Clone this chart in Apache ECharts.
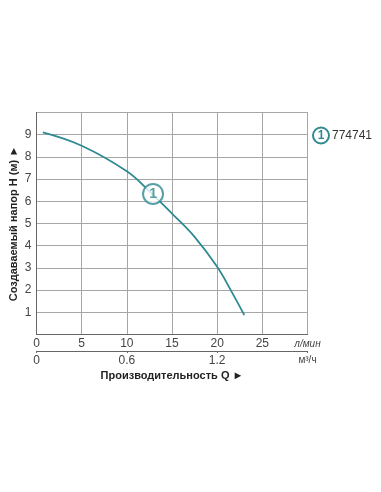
<!DOCTYPE html>
<html><head><meta charset="utf-8">
<script src="https://cdn.jsdelivr.net/npm/echarts@6/dist/echarts.min.js"></script>
<style>html,body{margin:0;padding:0;background:#fff}#c{width:381px;height:492px}</style>
</head><body><div id="c"></div>
<script>
const flowLpm = [0.7, 5, 10, 12.5, 15, 17.5, 20, 21.5, 23];
const headM = [9.1, 8.5, 7.35, 6.45, 5.45, 4.4, 3.05, 2.0, 0.88];
const markerPoint = [12.9, 6.33];
const xTicksLpm = [0, 5, 10, 15, 20, 25];
const xTicksM3h = [0, 0.6, 1.2];
const yTicks = [1, 2, 3, 4, 5, 6, 7, 8, 9];
const seriesName = '774741';
const teal = '#2f8a91';
const font = 'Liberation Sans, Arial, sans-serif';

const chart = echarts.init(document.getElementById('c'));
chart.setOption({
  animation: false,
  textStyle: {fontFamily: font},
  grid: {left: 36.5, right: 73.5, top: 112.5, bottom: 157.5, show: true, borderColor: '#999', borderWidth: 1,
    containLabel: false, outerBoundsMode: 'none'},
  xAxis: [{
    type: 'value', min: 0, max: 30, interval: 5, position: 'bottom',
    axisLine: {show: true, onZero: false, lineStyle: {color: '#666', width: 1}},
    axisTick: {show: false},
    splitLine: {show: true, lineStyle: {color: '#a6a6a6', width: 1}},
    axisLabel: {margin: 3, fontSize: 12, color: '#444', fontFamily: font,
      formatter: v => xTicksLpm.includes(v) ? String(v) : (v === 30 ? '{u|л/мин}' : ''),
      rich: {u: {fontSize: 10, fontStyle: 'italic', color: '#444', padding: [2, 0, 0, 0]}},
      showMaxLabel: true}
  }, {
    type: 'value', min: 0, max: 1.8, interval: 0.6, position: 'bottom', offset: 16.5,
    axisLine: {show: true, onZero: false, lineStyle: {color: '#666', width: 1}},
    axisTick: {show: true, length: 2, lineStyle: {color: '#666'}},
    splitLine: {show: false},
    axisLabel: {margin: 4, fontSize: 12, color: '#444', fontFamily: font,
      formatter: v => {
        const r = Math.round(v * 10) / 10;
        if (r === 1.8) return '{u|м³/ч}';
        return xTicksM3h.includes(r) ? String(r) : '';
      },
      rich: {u: {fontSize: 10, color: '#444'}},
      showMaxLabel: true},
    name: 'Производительность Q ►', nameLocation: 'middle', nameGap: 19,
    nameTextStyle: {fontSize: 11, fontWeight: 'bold', color: '#222', fontFamily: font}
  }],
  yAxis: {
    type: 'value', min: 0, max: 10, interval: 1,
    axisLine: {show: true, lineStyle: {color: '#666', width: 1}},
    axisTick: {show: false},
    splitLine: {show: true, lineStyle: {color: '#a6a6a6', width: 1}},
    axisLabel: {margin: 5, fontSize: 12, color: '#444', fontFamily: font,
      formatter: v => yTicks.includes(v) ? String(v) : ''},
    name: 'Создаваемый напор H (м) ►', nameLocation: 'middle', nameGap: 17, nameRotate: 90,
    nameMoveOverlap: false,
    nameTextStyle: {fontSize: 11, fontWeight: 'bold', color: '#222', fontFamily: font}
  },
  series: [{
    name: seriesName, type: 'line', smooth: 0.4, showSymbol: false, xAxisIndex: 0,
    data: flowLpm.map((q, i) => [q, headM[i]]),
    lineStyle: {color: teal, width: 1.8}
  }, {
    type: 'scatter', xAxisIndex: 0, data: [markerPoint], symbol: 'circle', symbolSize: 20,
    itemStyle: {color: '#fff', borderColor: teal, borderWidth: 2},
    label: {show: true, position: 'inside', formatter: '1', color: teal, fontWeight: 'bold', fontSize: 14, fontFamily: font},
    z: 5
  }],
  graphic: [{
    type: 'circle', shape: {cx: 321, cy: 135.5, r: 8},
    style: {fill: '#fff', stroke: teal, lineWidth: 2}
  }, {
    type: 'text', x: 321, y: 135.5,
    style: {text: '1', fill: teal, font: 'bold 12px ' + font, align: 'center', verticalAlign: 'middle'}
  }, {
    type: 'text', x: 332, y: 135.5,
    style: {text: seriesName, fill: '#333', font: '12px ' + font, align: 'left', verticalAlign: 'middle'}
  }]
});
</script></body></html>
